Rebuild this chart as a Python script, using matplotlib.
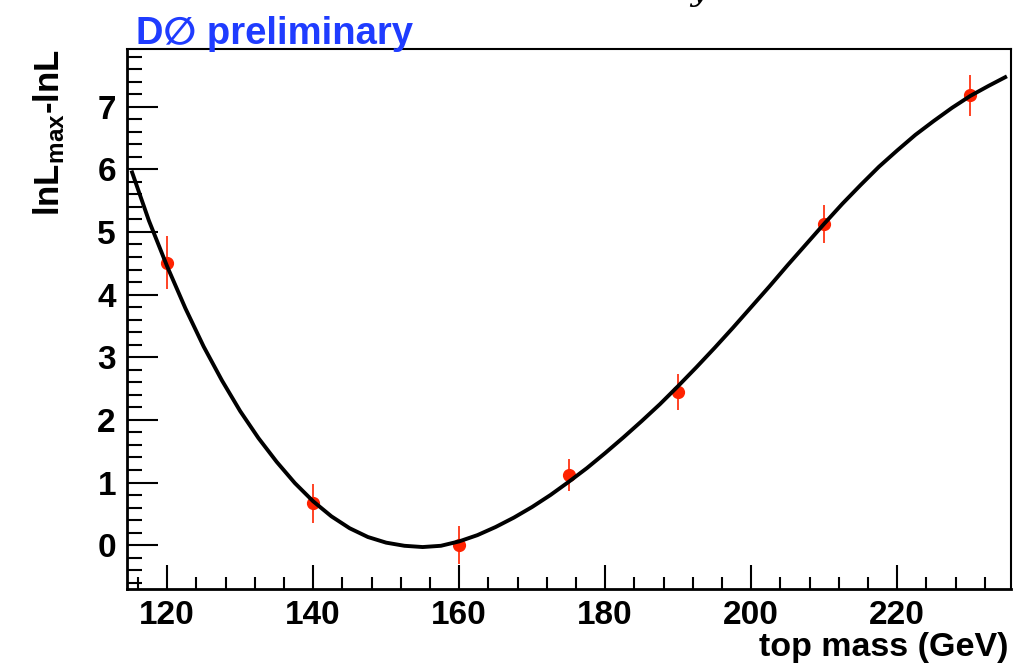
import matplotlib
matplotlib.use("Agg")
import matplotlib.pyplot as plt
from matplotlib.ticker import MultipleLocator

plt.rcParams['font.family'] = ['Liberation Sans', 'DejaVu Sans']
plt.rcParams['font.weight'] = 'bold'
plt.rcParams['mathtext.fontset'] = 'custom'
plt.rcParams['mathtext.rm'] = 'Liberation Sans:bold'
plt.rcParams['mathtext.it'] = 'Liberation Sans:bold'
plt.rcParams['mathtext.default'] = 'rm'

#### measured points ####
mass = [120, 140, 160, 175, 190, 210, 230]
dlnl = [4.51, 0.67, 0.0, 1.12, 2.45, 5.13, 7.18]
err = [0.42, 0.31, 0.30, 0.25, 0.29, 0.30, 0.33]

#### fitted curve ####
fit_mass = [115.2, 117.5, 120, 122.5, 125, 127.5, 130, 132.5, 135, 137.5,
            140, 142.5, 145, 147.5, 150, 152.5, 155, 157.5, 160, 162.5,
            165, 167.5, 170, 172.5, 175, 177.5, 180, 182.5, 185, 187.5,
            190, 192.5, 195, 197.5, 200, 202.5, 205, 207.5, 210, 212.5,
            215, 217.5, 220, 222.5, 225, 227.5, 230, 232.5, 234.8]
fit_dlnl = [5.95, 5.18, 4.45, 3.78, 3.17, 2.63, 2.14, 1.71, 1.33, 0.99,
            0.70, 0.46, 0.27, 0.13, 0.04, -0.01, -0.03, -0.01, 0.06, 0.16,
            0.29, 0.44, 0.61, 0.80, 1.01, 1.23, 1.47, 1.72, 1.98, 2.25,
            2.54, 2.84, 3.15, 3.47, 3.80, 4.13, 4.47, 4.80, 5.13, 5.45,
            5.75, 6.04, 6.30, 6.55, 6.77, 6.98, 7.17, 7.33, 7.47]

fig = plt.figure(figsize=(10.36, 6.66), dpi=100)
ax = fig.add_axes([0.1226, 0.1156, 0.8533, 0.8108])

ax.plot(fit_mass, fit_dlnl, color='black', lw=2.8, solid_joinstyle='round', zorder=3)
ax.errorbar(mass, dlnl, yerr=err, fmt='o', color='#ff2200', ms=8.5,
            elinewidth=1.2, capsize=0, zorder=2)

ax.set_xlim(114.5, 235.6)
ax.set_ylim(-0.70, 7.92)

ax.xaxis.set_major_locator(MultipleLocator(20))
ax.xaxis.set_minor_locator(MultipleLocator(4))
ax.yaxis.set_major_locator(MultipleLocator(1))
ax.yaxis.set_minor_locator(MultipleLocator(0.2))

ax.tick_params(axis='both', which='both', direction='in', top=False, right=False,
               labelsize=24, width=1.5, color='black')
ax.tick_params(axis='y', which='major', length=22, pad=8)
ax.tick_params(axis='y', which='minor', length=11)
ax.tick_params(axis='x', which='major', length=17, pad=8)
ax.tick_params(axis='x', which='minor', length=9)

for side in ['left', 'bottom']:
    ax.spines[side].set_linewidth(2)
for side in ['top', 'right']:
    ax.spines[side].set_linewidth(1.5)

ax.set_xlabel('top mass (GeV)', fontsize=24.5, fontweight='bold', loc='right')
ax.xaxis.set_label_coords(0.9966, -0.124)
ax.xaxis.label.set_va('baseline')
ax.set_ylabel(r'lnL$_{max}$-lnL', fontsize=25, fontweight='bold', loc='top', labelpad=22)

fig.text(136 / 1036, 1 - 44 / 666, u'D\u2205 preliminary', color='#1f3cff',
         fontsize=27.5, fontweight='bold', ha='left', va='baseline')
fig.text(690 / 1036, 1.0, 'y', fontsize=22, style='italic', fontweight='normal',
         family='DejaVu Serif', ha='left', va='baseline')

fig.savefig('out.png', dpi=100)
